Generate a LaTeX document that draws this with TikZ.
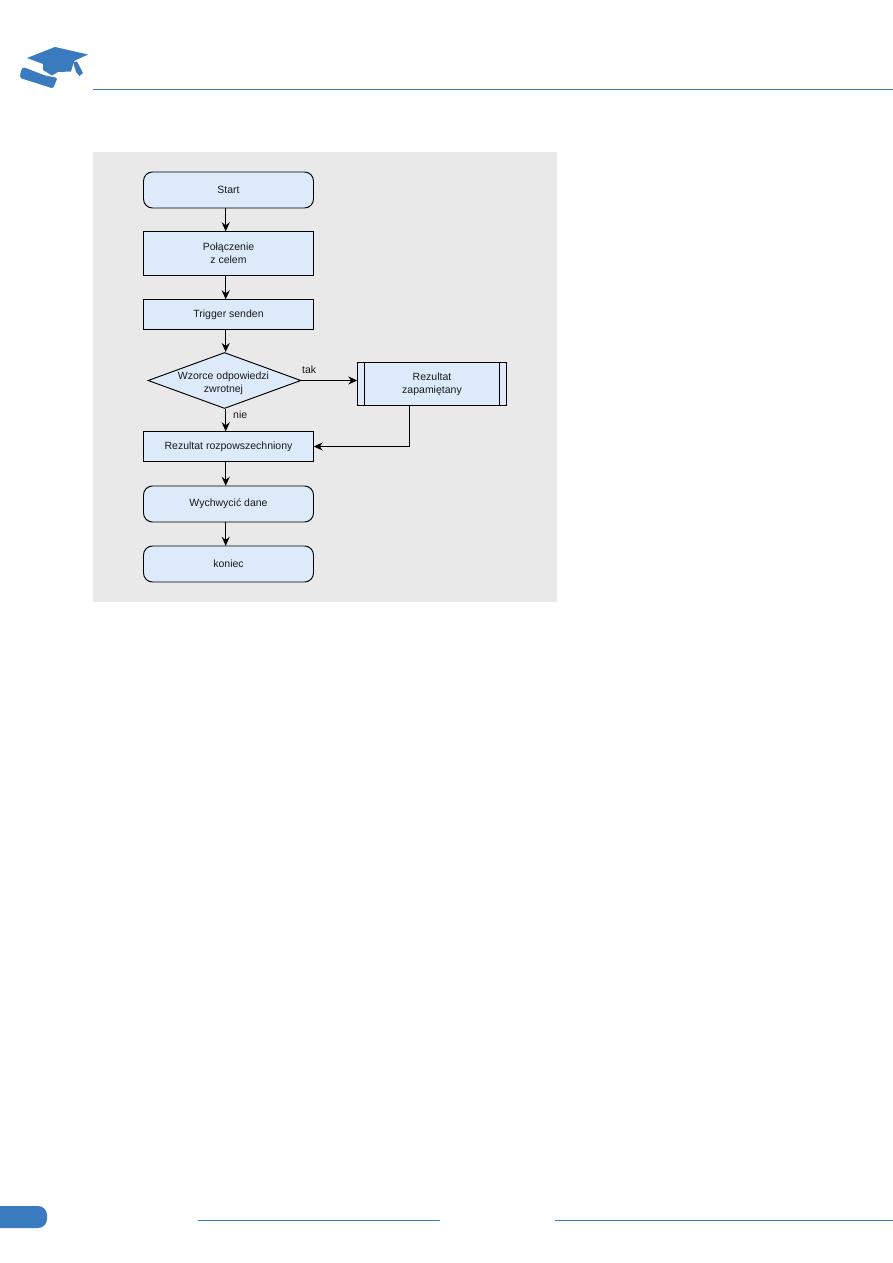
\documentclass[tikz,border=0pt]{standalone}
\usepackage{fontspec}
\setmainfont{Liberation Sans}
\usetikzlibrary{shapes.geometric,arrows.meta}
\definecolor{brandblue}{HTML}{3A7BC0}
\definecolor{panelgrey}{HTML}{E9E9E9}
\definecolor{boxfill}{HTML}{DCEAFA}
\definecolor{inkdark}{HTML}{1A1A1A}
\tikzset{
  x=1pt,y=-1pt,
  flowtext/.style={font=\fontsize{10.5}{13.2}\selectfont,text=inkdark,align=center},
  flowshape/.style={draw=black,line width=0.95pt,fill=boxfill},
  flowarrow/.style={draw=black,line width=1.4pt,-{Stealth[length=9pt,width=8pt]}},
  flowlabel/.style={font=\fontsize{10.5}{12}\selectfont,text=inkdark,inner sep=0pt},
  brandline/.style={draw=brandblue,line width=1.1pt}
}
% rectangle with its label centred on the given point
\newcommand{\flowbox}[7][]{%
  \filldraw[flowshape,#1] (#3,#5) rectangle (#4,#6);
  \node[flowtext,inner sep=0pt,minimum width={(#4-#3)*1pt},minimum height={(#6-#5)*1pt}] (#2) at ({(#3+#4)/2},{(#5+#6)/2}) {#7};
}
\begin{document}
\begin{tikzpicture}
\useasboundingbox (0,0) rectangle (893,1263);
\fill[white] (0,0) rectangle (893,1263);

% page furniture
\draw[brandline] (93,89.5) -- (893,89.5);
\begin{scope}
  \clip (0,1200) rectangle (60,1235);
  \fill[brandblue,rounded corners=9pt] (-20,1206) rectangle (47,1228);
\end{scope}
\draw[brandline] (198,1220.5) -- (440,1220.5);
\draw[brandline] (555,1220.5) -- (893,1220.5);

% graduation cap and diploma
\fill[brandblue] (27,58) -- (55,47) -- (88,54.5) -- (74,61) -- (71,71.5) -- (58,72) -- (52,75.5) -- (43,70) -- (43,64) -- cycle;
\fill[brandblue] (73,62) -- (77,61.5) -- (83,73) -- (79.5,76) -- (76,72) -- cycle;
\fill[brandblue,rounded corners=1.5pt] (23,67) -- (20.5,72) -- (20,78) -- (36,83) -- (53,88.5) -- (57.5,78) -- (45,75.5) -- cycle;

% panel
\fill[panelgrey] (93,152) rectangle (557,602);

% flowchart
\coordinate (axis) at (225.7,0);
\flowbox[rounded corners=9pt]{start}{143.5}{313.5}{172}{208}{Start}
\flowbox{connect}{143.5}{313.5}{231.5}{275.5}{Połączenie\\z celem}
\flowbox{trigger}{143.5}{313.5}{299.5}{329.5}{Trigger senden}
\node[diamond,flowshape,aspect=2.73,inner sep=0pt,minimum width=153pt,minimum height=56pt] (pattern) at (224.5,380.5) {};
\node[flowtext,inner sep=0pt] (patterntext) at (223.5,383.5) {Wzorce odpowiedzi\\zwrotnej};
\flowbox{stored}{357.5}{506.5}{362.5}{405.5}{Rezultat\\zapamiętany}
\draw[line width=0.95pt] (364.5,362.5) -- (364.5,405.5) (499.5,362.5) -- (499.5,405.5);
\flowbox{spread}{143.5}{313.5}{431.5}{461.5}{Rezultat rozpowszechniony}
\flowbox[rounded corners=9pt]{catch}{143.5}{313.5}{486}{522}{Wychwycić dane}
\flowbox[rounded corners=9pt]{finish}{143.5}{313.5}{546}{582}{koniec}

% connectors
\draw[flowarrow] (start.south -| axis) -- (connect.north -| axis);
\draw[flowarrow] (connect.south -| axis) -- (trigger.north -| axis);
\draw[flowarrow] (trigger.south -| axis) -- (pattern.north -| axis);
\draw[flowarrow] (pattern.south -| axis) -- (spread.north -| axis);
\draw[flowarrow] (pattern.east) -- (stored.west |- pattern.east);
\coordinate (drop) at (409.5,0);
\draw[flowarrow] (stored.south -| drop) |- (spread.east);
\draw[flowarrow] (spread.south -| axis) -- (catch.north -| axis);
\draw[flowarrow] (catch.south -| axis) -- (finish.north -| axis);

% branch labels
\node[flowlabel,anchor=west] (yes) at (302,370) {tak};
\node[flowlabel,anchor=west] (no) at (233,415) {nie};
\end{tikzpicture}
\end{document}
